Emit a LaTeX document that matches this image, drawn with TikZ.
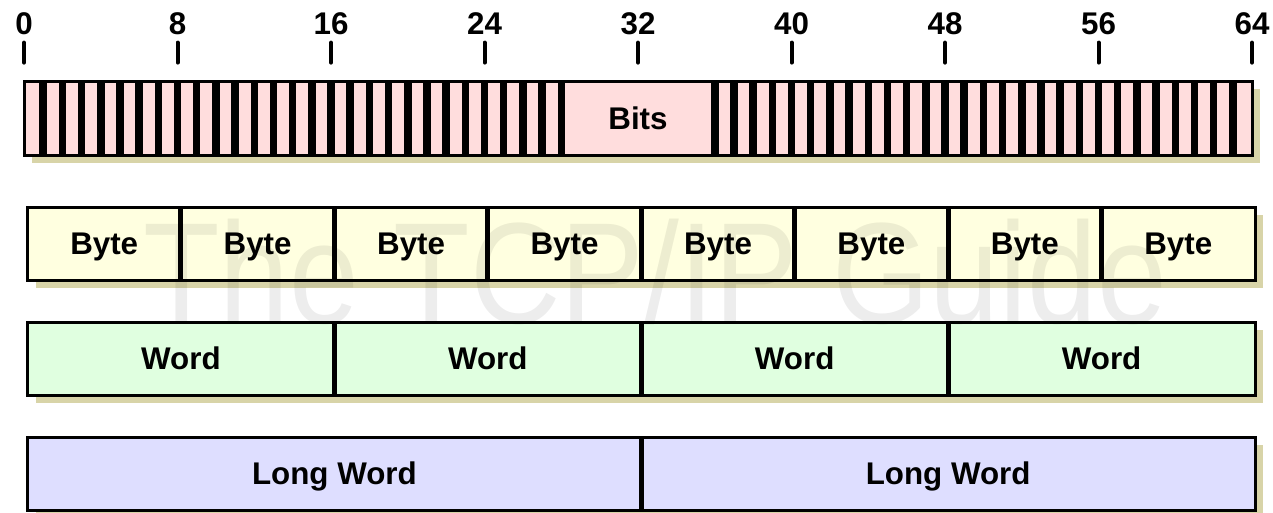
\documentclass[tikz,border=0pt]{standalone}
\usepackage{fontspec}
\setmainfont{Liberation Sans}
\usetikzlibrary{calc,positioning,backgrounds}

\definecolor{bitpink}{RGB}{255,221,221}
\definecolor{byteyellow}{RGB}{255,255,224}
\definecolor{wordgreen}{RGB}{224,255,224}
\definecolor{longblue}{RGB}{222,222,255}
\definecolor{shadowtan}{RGB}{216,212,168}

\tikzset{
  cell/.style={draw=black, line width=2.25pt, inner sep=0pt, outer sep=0pt, minimum height=54.75pt, text height=17pt, text depth=0pt, font=\fontsize{23.5}{28}\selectfont\bfseries},
  bytecell/.style={cell, fill=byteyellow, minimum width=115.08pt},
  wordcell/.style={cell, fill=wordgreen, minimum width=230.16pt},
  longcell/.style={cell, fill=longblue, minimum width=460.31pt},
  sep/.style={line width=3.75pt},
  tickmark/.style={line width=3pt, line cap=round},
  ticklabel/.style={font=\fontsize{23.5}{28}\selectfont\bfseries, inner sep=0pt, text height=17pt, text depth=0pt},
  shade/.style={fill=shadowtan},
}

\begin{document}
\begin{tikzpicture}[x=0.75pt,y=0.75pt,yscale=-1,xscale=1]
\useasboundingbox (0,0) rectangle (1273,512);

%Bit scale
\foreach \b in {0,8,...,64}{
  \node[ticklabel] (t\b) at ({24+\b*19.1875},23) {\b};
  \draw[tickmark] ($(t\b.south)+(0,8)$) -- ++(0,20);
}

%Bits row
\node[cell, fill=bitpink, minimum width=921pt, minimum height=55.5pt, anchor=north west] (bitsbar) at (24,81) {};
\foreach \i in {1,...,28,36,37,...,63}
  \fill ($(bitsbar.north west)+({\i*19.1875-3.75},0)$) rectangle ++(7.5,74);
\node[ticklabel] (bits) at (bitsbar.center) {Bits};

%Byte row
\node[bytecell, anchor=north west] (byte1) at (27.5,207) {Byte};
\foreach \i [evaluate=\i as \j using int(\i-1)] in {2,...,8}{
  \node[bytecell, right=0pt of byte\j] (byte\i) {Byte};
  \draw[sep] (byte\j.north east) -- (byte\j.south east);
}

%Word row
\node[wordcell, anchor=north west] (word1) at (27.5,322) {Word};
\foreach \i [evaluate=\i as \j using int(\i-1)] in {2,...,4}{
  \node[wordcell, right=0pt of word\j] (word\i) {Word};
  \draw[sep] (word\j.north east) -- (word\j.south east);
}

%Long word row
\node[longcell, anchor=north west] (lword1) at (27.5,437) {Long Word};
\node[longcell, right=0pt of lword1] (lword2) {Long Word};
\draw[sep] (lword1.north east) -- (lword1.south east);

%Shadows
\begin{scope}[on background layer]
  \fill[shade] ($(bitsbar.north west)+(8,8)$) rectangle ($(bitsbar.south east)+(8,8)$);
  \fill[shade] ($(byte1.north west)+(8,8)$) rectangle ($(byte8.south east)+(8,8)$);
  \fill[shade] ($(word1.north west)+(8,8)$) rectangle ($(word4.south east)+(8,8)$);
  \fill[shade] ($(lword1.north west)+(8,8)$) rectangle ($(lword2.south east)+(8,8)$);
\end{scope}

%Watermark
\node[text=black, opacity=0.07, inner sep=0pt, font=\fontsize{94}{100}\selectfont] (mark) at (655,272) {\scalebox{1}[1.15]{The TCP/IP Guide}};

\end{tikzpicture}
\end{document}
